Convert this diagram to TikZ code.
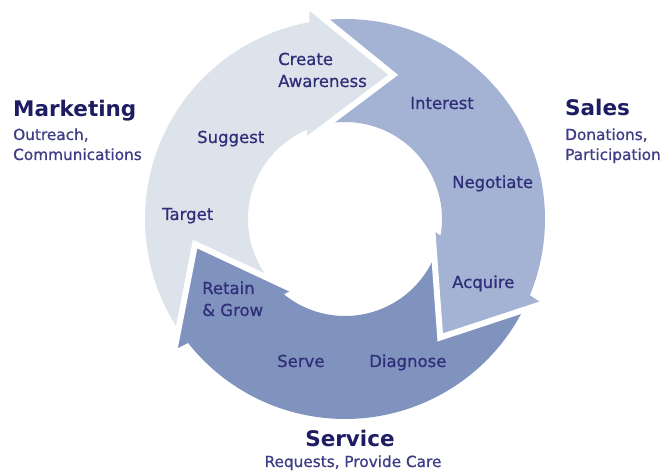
\documentclass[tikz,border=0pt]{standalone}
\usepackage{fontspec}
\setmainfont{DejaVu Sans}
\newfontfamily\medfont[BoldFont={DejaVu Sans}, BoldFeatures={FakeBold=0.8}]{DejaVu Sans}
\definecolor{mkt}{RGB}{221,227,234}
\definecolor{sal}{RGB}{164,178,211}
\definecolor{svc}{RGB}{127,147,190}
\definecolor{lbl}{RGB}{48,46,120}
\definecolor{hdr}{RGB}{30,28,98}
\definecolor{subc}{RGB}{62,60,132}
\begin{document}
\begin{tikzpicture}[x=1pt,y=1pt,
  lab/.style={inner sep=0pt, anchor=base west, text=lbl, font=\fontsize{16.5}{20}\medfont\bfseries},
  hdr/.style={inner sep=0pt, anchor=base west, text=hdr, font=\fontsize{21.5}{26}\selectfont\bfseries},
  subl/.style={inner sep=0pt, anchor=base west, text=subc, font=\fontsize{15.3}{18}\medfont\bfseries},
  gapline/.style={draw=white, line width=6pt, line join=miter}]
\path[use as bounding box] (0,0) rectangle (663,473);
\begin{scope}[shift={(345,254)}]
 % Marketing arrow (light grey)
 \fill[mkt] (213.59:200pt) arc[start angle=213.59, end angle=100.30, radius=200pt]
   -- (99.5:215pt) -- (71.5:152pt) -- (115.5:88pt) -- (112.88:97pt)
   arc[start angle=112.88, end angle=217.70, radius=97pt] -- (189.5:152pt) -- cycle;
 % Sales arrow
 \fill[sal] (95.59:200pt) arc[start angle=95.59, end angle=-22.40, radius=200pt]
   -- (-23.2:215pt) -- (-51.2:152pt) -- (-7.2:88pt) -- (-9.82:97pt)
   arc[start angle=-9.82, end angle=99.70, radius=97pt] -- (71.5:152pt) -- cycle;
 % Service arrow
 \fill[svc] (332.89:200pt) arc[start angle=332.89, end angle=218.30, radius=200pt]
   -- (217.5:215pt) -- (189.5:152pt) -- (233.5:88pt) -- (230.88:97pt)
   arc[start angle=230.88, end angle=337.00, radius=97pt] -- (308.8:152pt) -- cycle;
 % white gaps along the arrow heads
 \draw[gapline] (99.5:215pt) -- (71.5:152pt) -- (115.5:88pt);
 \draw[gapline] (-23.2:215pt) -- (-51.2:152pt) -- (-7.2:88pt);
 \draw[gapline] (217.5:215pt) -- (189.5:152pt) -- (233.5:88pt);
\end{scope}
% labels in the arrows
\node[lab] (create) at (278,408) {Create};
\node[lab] (aware) at (278,386) {Awareness};
\node[lab] (suggest) at (197,330) {Suggest};
\node[lab] (target) at (162,253) {Target};
\node[lab] (interest) at (410,364) {Interest};
\node[lab] (negot) at (452,285) {Negotiate};
\node[lab] (acquire) at (452,185) {Acquire};
\node[lab] (retain) at (202,179) {Retain};
\node[lab] (grow) at (202,157) {\& Grow};
\node[lab] (serve) at (277,106) {Serve};
\node[lab] (diag) at (369,106) {Diagnose};
% headings
\node[hdr] (mkth) at (13,356) {Marketing};
\node[subl] (mkt1) at (13,333) {Outreach,};
\node[subl] (mkt2) at (13,313) {Communications};
\node[hdr] (salh) at (565,357) {Sales};
\node[subl] (sal1) at (565,333) {Donations,};
\node[subl] (sal2) at (565,313) {Participation};
\node[hdr, anchor=base] (svch) at (350,26) {Service};
\node[subl, anchor=base] (svc1) at (353,6) {Requests, Provide Care};
\end{tikzpicture}
\end{document}
